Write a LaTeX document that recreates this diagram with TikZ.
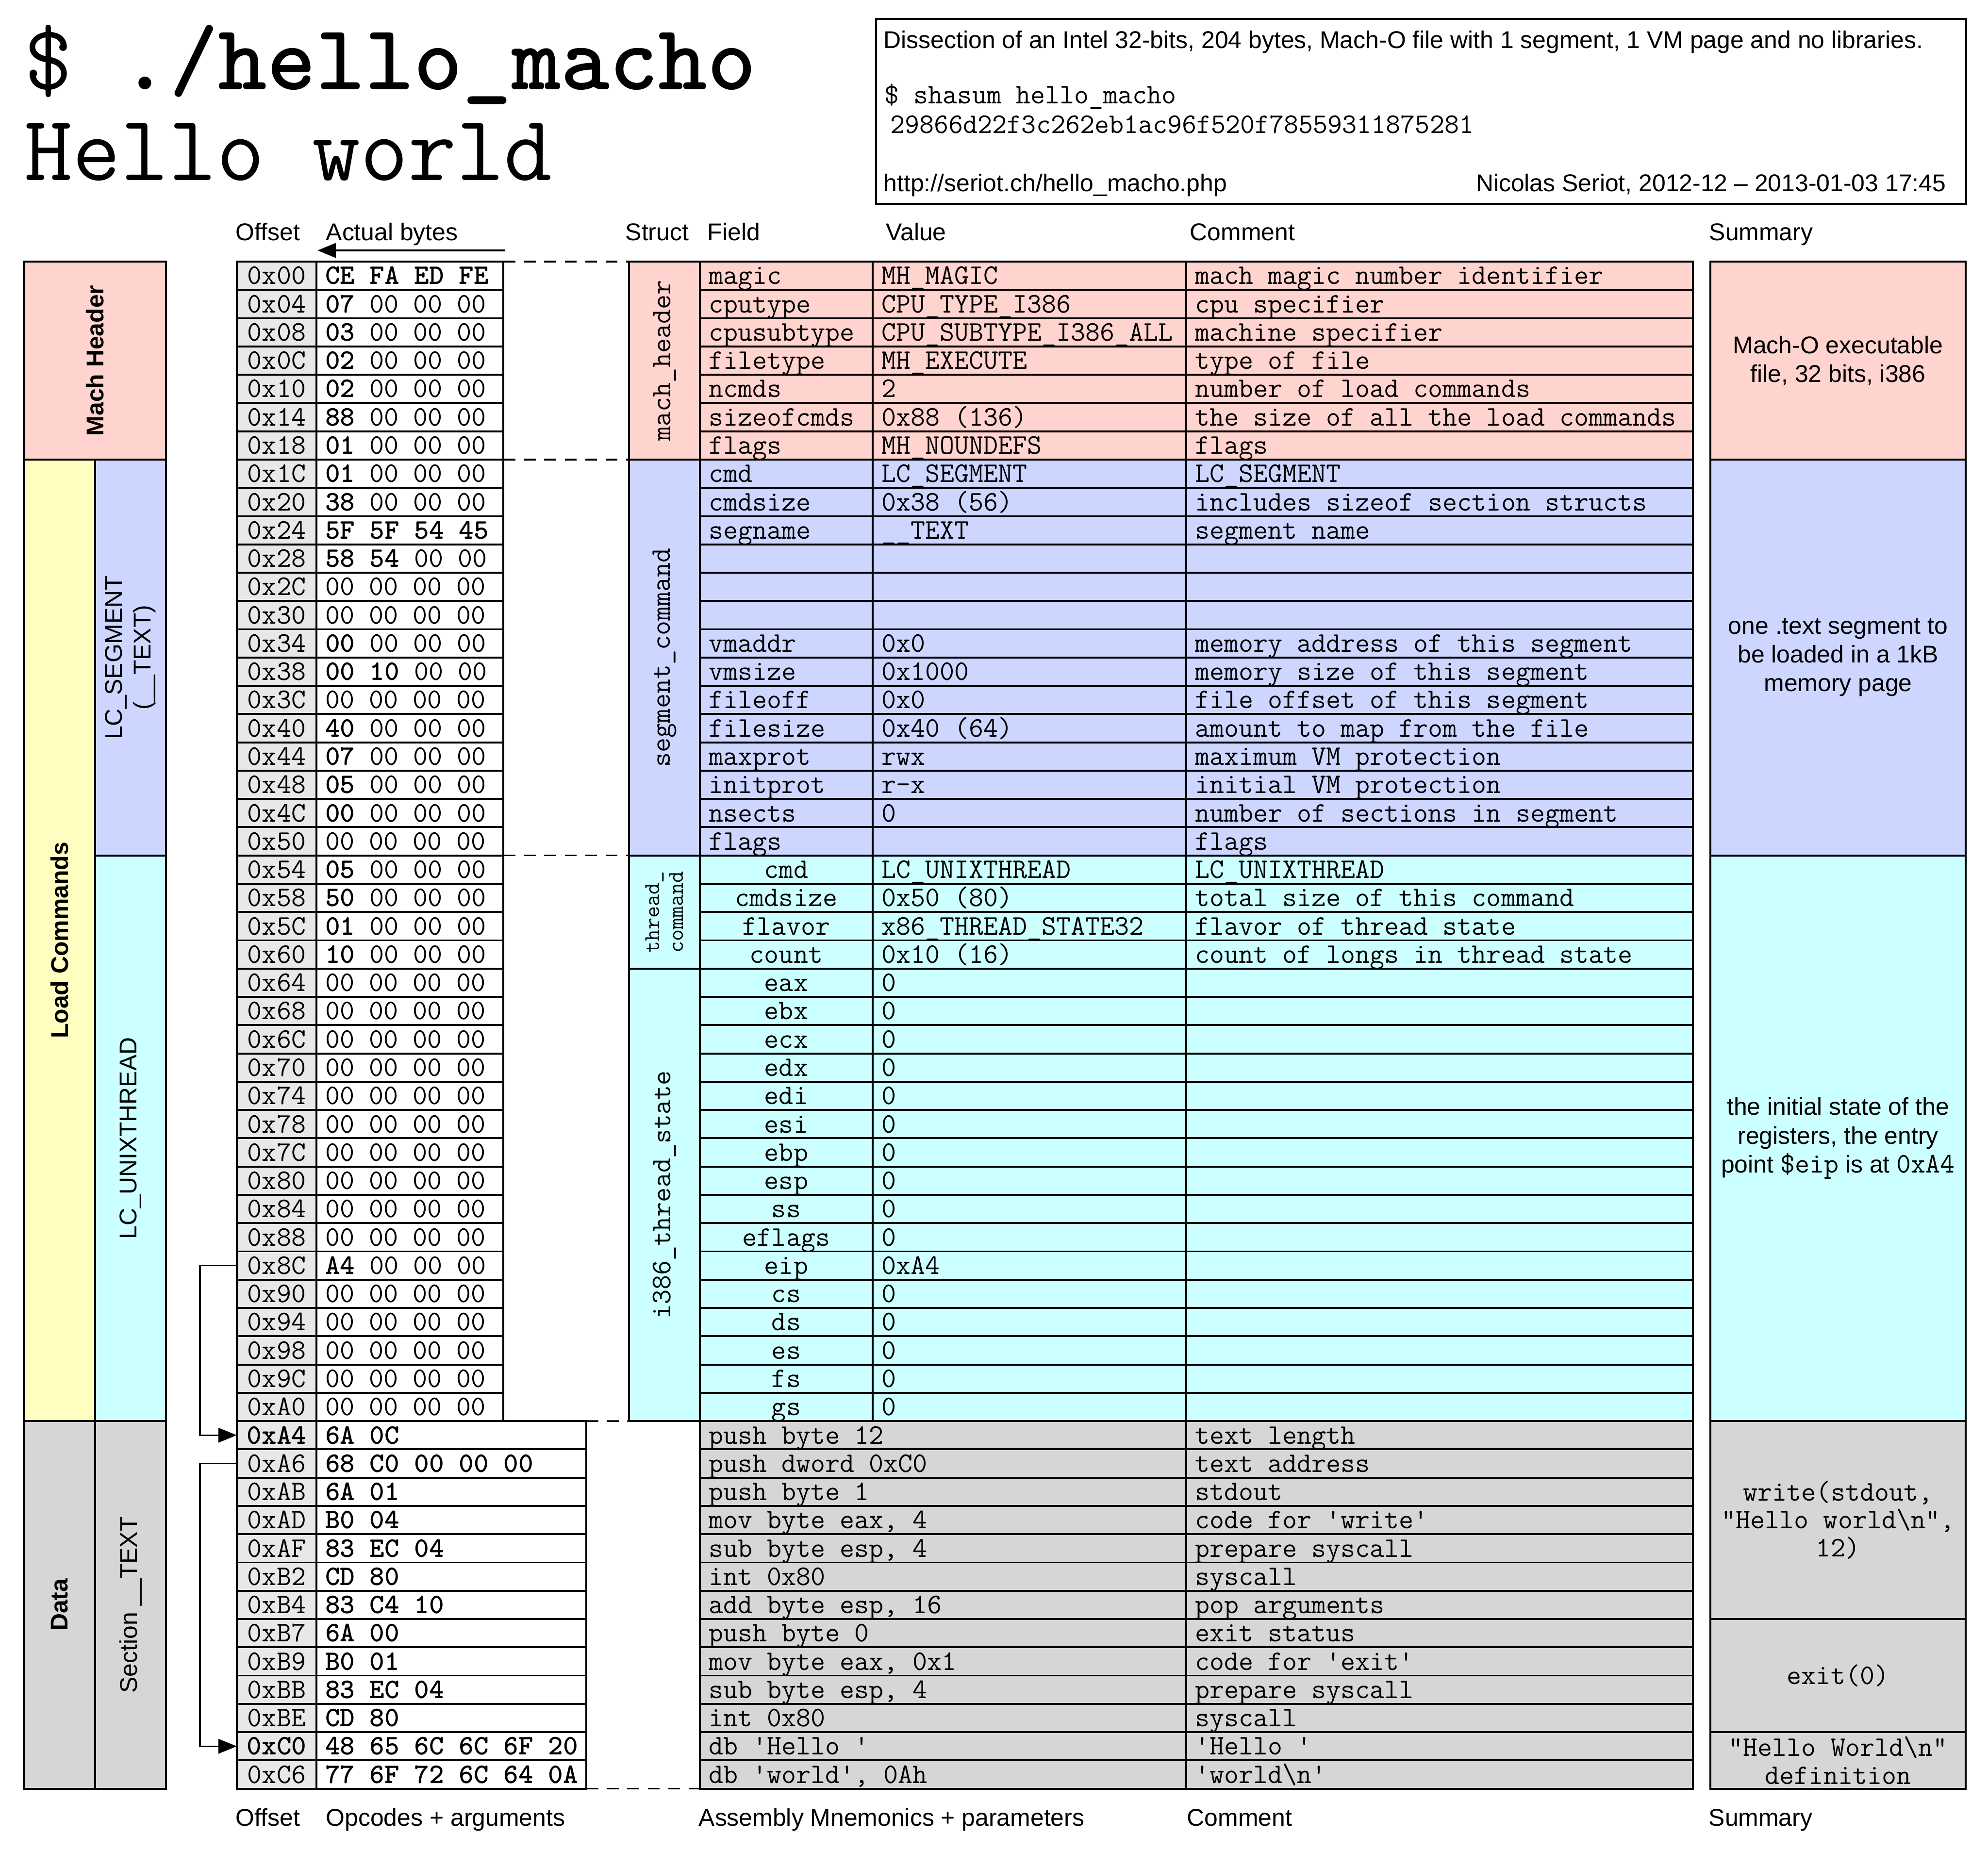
\documentclass[tikz,border=0pt]{standalone}
\usepackage{fontspec}
\setsansfont{Liberation Sans}
\usetikzlibrary{arrows.meta, positioning, calc}

\definecolor{hdrpink}{HTML}{FFD3CE}
\definecolor{segblue}{HTML}{CCD6FF}
\definecolor{thrcyan}{HTML}{CCFFFF}
\definecolor{cmdyellow}{HTML}{FFFDC0}
\definecolor{datagray}{HTML}{D6D6D6}
\definecolor{offgray}{HTML}{E8E8E8}

\newcommand{\ttcell}{\ttfamily\fontsize{16.6}{16.4}\selectfont}
\newcommand{\ttnarrow}{\ttfamily\fontsize{13.3}{13.8}\selectfont}
\newcommand{\sftext}{\sffamily\fontsize{14.2}{16.8}\selectfont}
\newcommand{\tttitle}{\ttfamily\fontsize{54.6}{60}\selectfont}
\newcommand{\hb}[1]{\textbf{#1}}
\newcommand{\sq}{\textquotesingle}
\newcommand{\bs}{\textbackslash}
\newcommand{\rowy}[1]{-5.39-#1*0.5827}

\tikzset{
  cell/.style={draw, line width=1.1pt, anchor=north west, inner xsep=0.18cm, inner ysep=0pt,
    outer sep=0pt, minimum height=0.5827cm, font=\ttcell, text height=10.1pt, text depth=0pt},
  offcell/.style={cell, fill=offgray, text width=1.28cm, align=flush center},
  bytecell/.style={cell, fill=white, text width=3.49cm, align=flush left},
  codecell/.style={cell, fill=white, text width=5.20cm, align=flush left},
  fieldcell/.style={cell, text width=3.20cm, align=flush left},
  regcell/.style={cell, text width=3.20cm, align=flush center},
  valuecell/.style={cell, text width=6.10cm, align=flush left},
  commentcell/.style={cell, text width=10.08cm, align=flush left},
  asmcell/.style={cell, text width=9.66cm, align=flush left},
  block/.style={draw, line width=1.1pt, anchor=north west, inner sep=0pt, outer sep=0pt},
  summary/.style={block, minimum width=5.26cm, align=flush center, font=\sftext},
  sidelabel/.style={rotate=90, font=\sftext, align=flush center, inner sep=0pt},
  structlabel/.style={rotate=90, font=\ttcell, align=flush left, inner sep=0pt},
  colhead/.style={anchor=base west, inner sep=0pt, font=\sftext},
  dashlink/.style={line width=1pt, dash pattern=on 7pt off 5pt},
  jump/.style={-{Triangle[length=3.8mm, width=3mm]}, line width=0.9pt},
}

\begin{document}
\begin{tikzpicture}
  \useasboundingbox (0,0) rectangle (40.96,-38.13);

  % title
  \node[anchor=base west, inner sep=0pt, font=\tttitle] (prompt) at (0.50,-1.84) {\$ \textbf{./hello\_macho}};
  \node[anchor=base west, inner sep=0pt, font=\tttitle] (output) at (0.50,-3.71) {Hello world};

  % info box
  \node[block, line width=1.2pt, minimum width=22.46cm, minimum height=3.81cm] (infobox) at (18.05,-0.39) {};
  \node[colhead] (infotitle) at (18.20,-0.99)
    {Dissection of an Intel 32-bits, 204 bytes, Mach-O file with 1 segment, 1 VM page and no libraries.};
  \node[colhead, font=\ttcell] (infocmd) at (18.22,-2.13) {\$ shasum hello\_macho};
  \node[colhead, font=\ttcell] (infohash) at (18.34,-2.74) {29866d22f3c262eb1ac96f520f78559311875281};
  \node[colhead] (infourl) at (18.20,-3.94) {http://seriot.ch/hello\_macho.php};
  \node[colhead, anchor=base east] (infoauthor) at (40.10,-3.94) {Nicolas Seriot, 2012-12 – 2013-01-03 17:45};

  % column headings
  \node[colhead] (hoffset) at (4.85,-4.95) {Offset};
  \node[colhead] (hbytes) at (6.71,-4.95) {Actual bytes};
  \node[colhead] (hstruct) at (12.88,-4.95) {Struct};
  \node[colhead] (hfield) at (14.57,-4.95) {Field};
  \node[colhead] (hvalue) at (18.25,-4.95) {Value};
  \node[colhead] (hcomment) at (24.51,-4.95) {Comment};
  \node[colhead] (hsummary) at (35.21,-4.95) {Summary};
  \coordinate (bytesfrom) at (10.40,-5.16);
  \coordinate (bytesto) at (6.54,-5.16);
  \draw[-{Triangle[length=3.8mm, width=3mm]}, line width=1.1pt] (bytesfrom) -- (bytesto);

  \node[colhead] (foffset) at (4.85,-37.62) {Offset};
  \node[colhead] (fopcodes) at (6.71,-37.62) {Opcodes + arguments};
  \node[colhead] (fasm) at (14.39,-37.62) {Assembly Mnemonics + parameters};
  \node[colhead] (fcomment) at (24.45,-37.62) {Comment};
  \node[colhead] (fsummary) at (35.20,-37.62) {Summary};

  % left side blocks
  \node[block, fill=hdrpink, minimum width=2.93cm, minimum height=4.0789cm] (machblk) at (0.49,\rowy{0}) {};
  \node[block, fill=cmdyellow, minimum width=1.47cm, minimum height=19.8118cm] (loadblk) at (0.49,\rowy{7}) {};
  \node[block, fill=segblue, minimum width=1.46cm, minimum height=8.1578cm] (segblk) at (1.96,\rowy{7}) {};
  \node[block, fill=thrcyan, minimum width=1.46cm, minimum height=11.654cm] (thrblk) at (1.96,\rowy{21}) {};
  \node[block, fill=datagray, minimum width=1.47cm, minimum height=7.5751cm] (datablk) at (0.49,\rowy{41}) {};
  \node[block, fill=datagray, minimum width=1.46cm, minimum height=7.5751cm] (sectblk) at (1.96,\rowy{41}) {};
  \node[sidelabel, font=\sftext\bfseries] (machname) at (machblk.center) {Mach Header};
  \node[sidelabel, font=\sftext\bfseries] (loadname) at (loadblk.center) {Load Commands};
  \node[sidelabel] (segname) at (segblk.center) {LC\_SEGMENT\\(\_\_TEXT)};
  \node[sidelabel] (thrname) at (thrblk.center) {LC\_UNIXTHREAD};
  \node[sidelabel, font=\sftext\bfseries] (dataname) at (datablk.center) {Data};
  \node[sidelabel] (sectname) at (sectblk.center) {Section \_\_TEXT};

  % offsets and raw bytes, header and load commands
  \foreach \ofs/\hex [count=\i from 0] in {
      00/\hb{CE FA ED FE}, 04/\hb{07} 00 00 00, 08/\hb{03} 00 00 00, 0C/\hb{02} 00 00 00,
      10/\hb{02} 00 00 00, 14/\hb{88} 00 00 00, 18/\hb{01} 00 00 00, 1C/\hb{01} 00 00 00,
      20/\hb{38} 00 00 00, 24/\hb{5F 5F 54 45}, 28/\hb{58 54} 00 00, 2C/00 00 00 00,
      30/00 00 00 00, 34/\hb{00} 00 00 00, 38/\hb{00 10} 00 00, 3C/00 00 00 00,
      40/\hb{40} 00 00 00, 44/\hb{07} 00 00 00, 48/\hb{05} 00 00 00, 4C/\hb{00} 00 00 00,
      50/00 00 00 00, 54/\hb{05} 00 00 00, 58/\hb{50} 00 00 00, 5C/\hb{01} 00 00 00,
      60/\hb{10} 00 00 00, 64/00 00 00 00, 68/00 00 00 00, 6C/00 00 00 00,
      70/00 00 00 00, 74/00 00 00 00, 78/00 00 00 00, 7C/00 00 00 00,
      80/00 00 00 00, 84/00 00 00 00, 88/00 00 00 00, 8C/\hb{A4} 00 00 00,
      90/00 00 00 00, 94/00 00 00 00, 98/00 00 00 00, 9C/00 00 00 00, A0/00 00 00 00} {
    \node[offcell] (off\i) at (4.88,\rowy{\i}) {0x\ofs};
    \node[bytecell] (byte\i) at (6.52,\rowy{\i}) {\mbox{\hex}};
  }

  % mach_header
  \foreach \fld/\val/\cmt [count=\i from 0] in {
      magic/MH\_MAGIC/mach magic number identifier,
      cputype/CPU\_TYPE\_I386/cpu specifier,
      cpusubtype/CPU\_SUBTYPE\_I386\_ALL/machine specifier,
      filetype/MH\_EXECUTE/type of file,
      ncmds/2/number of load commands,
      sizeofcmds/0x88 (136)/the size of all the load commands,
      flags/MH\_NOUNDEFS/flags} {
    \node[fieldcell, fill=hdrpink] (field\i) at (14.42,\rowy{\i}) {\fld};
    \node[valuecell, fill=hdrpink] (value\i) at (17.98,\rowy{\i}) {\val};
    \node[commentcell, fill=hdrpink] (comment\i) at (24.44,\rowy{\i}) {\mbox{\cmt}};
  }

  % segment_command
  \foreach \fld/\val/\cmt [count=\i from 7] in {
      cmd/LC\_SEGMENT/LC\_SEGMENT,
      cmdsize/0x38 (56)/includes sizeof section structs,
      segname/\_\_TEXT/segment name,
      {}/{}/{}, {}/{}/{}, {}/{}/{},
      vmaddr/0x0/memory address of this segment,
      vmsize/0x1000/memory size of this segment,
      fileoff/0x0/file offset of this segment,
      filesize/0x40 (64)/amount to map from the file,
      maxprot/rwx/maximum VM protection,
      initprot/r-x/initial VM protection,
      nsects/0/number of sections in segment,
      flags/{}/flags} {
    \node[fieldcell, fill=segblue] (field\i) at (14.42,\rowy{\i}) {\fld};
    \node[valuecell, fill=segblue] (value\i) at (17.98,\rowy{\i}) {\val};
    \node[commentcell, fill=segblue] (comment\i) at (24.44,\rowy{\i}) {\mbox{\cmt}};
  }

  % thread_command
  \foreach \fld/\val/\cmt [count=\i from 21] in {
      cmd/LC\_UNIXTHREAD/LC\_UNIXTHREAD,
      cmdsize/0x50 (80)/total size of this command,
      flavor/x86\_THREAD\_STATE32/flavor of thread state,
      count/0x10 (16)/count of longs in thread state} {
    \node[regcell, fill=thrcyan] (field\i) at (14.42,\rowy{\i}) {\fld};
    \node[valuecell, fill=thrcyan] (value\i) at (17.98,\rowy{\i}) {\val};
    \node[commentcell, fill=thrcyan] (comment\i) at (24.44,\rowy{\i}) {\mbox{\cmt}};
  }

  % i386_thread_state
  \foreach \fld/\val [count=\i from 25] in {
      eax/0, ebx/0, ecx/0, edx/0, edi/0, esi/0, ebp/0, esp/0,
      ss/0, eflags/0, eip/0xA4, cs/0, ds/0, es/0, fs/0, gs/0} {
    \node[regcell, fill=thrcyan] (field\i) at (14.42,\rowy{\i}) {\fld};
    \node[valuecell, fill=thrcyan] (value\i) at (17.98,\rowy{\i}) {\val};
    \node[commentcell, fill=thrcyan] (comment\i) at (24.44,\rowy{\i}) {};
  }

  % __TEXT section: code and data
  \foreach \ofs/\hex/\asm/\cmt [count=\i from 41] in {
      \hb{0xA4}/6A 0C/push byte 12/text length,
      0xA6/68 C0 00 00 00/push dword 0xC0/text address,
      0xAB/6A 01/push byte 1/stdout,
      0xAD/B0 04/{mov byte eax, 4}/code for \sq write\sq,
      0xAF/83 EC 04/{sub byte esp, 4}/prepare syscall,
      0xB2/CD 80/int 0x80/syscall,
      0xB4/83 C4 10/{add byte esp, 16}/pop arguments,
      0xB7/6A 00/push byte 0/exit status,
      0xB9/B0 01/{mov byte eax, 0x1}/code for \sq exit\sq,
      0xBB/83 EC 04/{sub byte esp, 4}/prepare syscall,
      0xBE/CD 80/int 0x80/syscall,
      \hb{0xC0}/48 65 6C 6C 6F 20/db \sq Hello\ \sq/\sq Hello\ \sq,
      0xC6/77 6F 72 6C 64 0A/{db \sq world\sq, 0Ah}/\sq world\bs n\sq} {
    \node[offcell] (off\i) at (4.88,\rowy{\i}) {\ofs};
    \node[codecell] (code\i) at (6.52,\rowy{\i}) {\mbox{\hb{\hex}}};
    \node[asmcell, fill=datagray] (asm\i) at (14.42,\rowy{\i}) {\mbox{\asm}};
    \node[commentcell, fill=datagray] (comment\i) at (24.44,\rowy{\i}) {\mbox{\cmt}};
  }

  % struct names
  \node[block, fill=hdrpink, minimum width=1.46cm, minimum height=4.0789cm] (mhstruct) at (12.96,\rowy{0}) {};
  \node[block, fill=segblue, minimum width=1.46cm, minimum height=8.1578cm] (segstruct) at (12.96,\rowy{7}) {};
  \node[block, fill=thrcyan, minimum width=1.46cm, minimum height=2.3308cm] (thrstruct) at (12.96,\rowy{21}) {};
  \node[block, fill=thrcyan, minimum width=1.46cm, minimum height=9.3232cm] (tstate) at (12.96,\rowy{25}) {};
  \node[structlabel] (mhname) at (mhstruct.center) {mach\_header};
  \node[structlabel] (segcmdname) at (segstruct.center) {segment\_command};
  \node[structlabel, font=\ttnarrow] (thrcmdname) at (thrstruct.center) {thread\_\\command};
  \node[structlabel] (tstatename) at (tstate.center) {i386\_thread\_state};

  % summaries
  \node[summary, fill=hdrpink, minimum height=4.0789cm] (sumheader) at (35.24,\rowy{0})
    {Mach-O executable\\file, 32 bits, i386};
  \node[summary, fill=segblue, minimum height=8.1578cm] (sumsegment) at (35.24,\rowy{7})
    {one .text segment to\\be loaded in a 1kB\\memory page};
  \node[summary, fill=thrcyan, minimum height=11.654cm] (sumthread) at (35.24,\rowy{21})
    {the initial state of the\\registers, the entry\\point {\ttcell\$eip} is at {\ttcell 0xA4}};
  \node[summary, fill=datagray, minimum height=4.0789cm, font=\ttcell] (sumwrite) at (35.24,\rowy{41})
    {write(stdout,\\"Hello world\bs n",\\12)};
  \node[summary, fill=datagray, minimum height=2.3308cm, font=\ttcell] (sumexit) at (35.24,\rowy{48})
    {exit(0)};
  \node[summary, fill=datagray, minimum height=1.1654cm, font=\ttcell] (sumhello) at (35.24,\rowy{52})
    {"Hello World\bs n"\\definition};

  % links between bytes and structs
  \draw[dashlink] (byte0.north east) -- (mhstruct.north west);
  \draw[dashlink] (byte7.north east) -- (segstruct.north west);
  \draw[dashlink] (byte21.north east) -- (thrstruct.north west);
  \draw[dashlink] (code41.north east) -- (tstate.south west);
  \draw[dashlink] (code53.south east) -- (asm53.south west);

  % entry point and text address
  \draw[jump] (off35.west) -- ++(-0.76,0) |- (off41.west);
  \draw[jump] (off42.west) -- ++(-0.76,0) |- (off52.west);
\end{tikzpicture}
\end{document}
